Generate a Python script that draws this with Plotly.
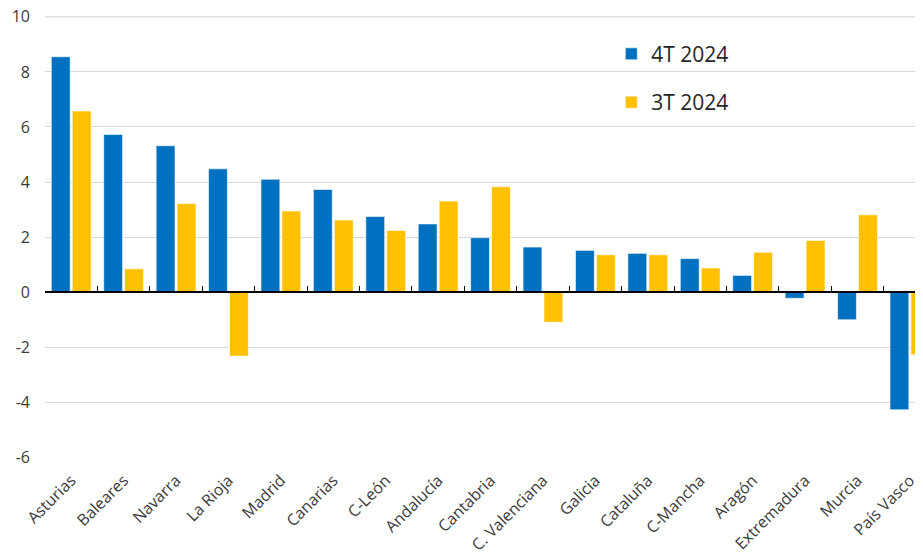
import plotly.graph_objects as go

regions = ["Asturias", "Baleares", "Navarra", "La Rioja", "Madrid", "Canarias", "C-León",
           "Andalucía", "Cantabria", "C. Valenciana", "Galicia", "Cataluña", "C-Mancha",
           "Aragón", "Extremadura", "Murcia", "País Vasco"]
q4_2024 = [8.55, 5.73, 5.32, 4.48, 4.10, 3.73, 2.75, 2.48, 1.98, 1.64, 1.52, 1.41, 1.22,
           0.61, -0.22, -1.00, -4.27]
q3_2024 = [6.58, 0.85, 3.22, -2.32, 2.95, 2.62, 2.24, 3.31, 3.83, -1.09, 1.36, 1.36, 0.88,
           1.45, 1.88, 2.81, -2.27]
y_tickvals = [-6, -4, -2, 0, 2, 4, 6, 8, 10]
y_ticktext = ["-6", "-4", "-2", "0", "2", "4", "6", "8", "10"]

FONT = "Open Sans"
TXT = "#3a3a3a"
GRID = "#d9d9d9"
ymin, ymax = -6.02, 10.03

fig = go.Figure()
fig.add_trace(go.Bar(name="4T 2024", x=regions, y=q4_2024, marker_color="#0070C0",
                     marker_line=dict(color="rgba(255,255,255,0.6)", width=1),
                     legendgroup="a"))
fig.add_trace(go.Bar(name="3T 2024", x=regions, y=q3_2024, marker_color="#FFC000",
                     marker_line=dict(color="rgba(255,255,255,0.6)", width=1),
                     legendgroup="b"))
# helper trace for the zero-line axis with boundary ticks
fig.add_trace(go.Scatter(x=regions, y=[0] * len(regions), xaxis="x2", yaxis="y",
                         mode="markers", marker=dict(opacity=0), showlegend=False,
                         hoverinfo="skip"))

# make sure the top gridline is drawn
fig.add_shape(type="line", xref="paper", x0=0, x1=1, yref="y",
              y0=y_tickvals[-1], y1=y_tickvals[-1],
              line=dict(color=GRID, width=1.3), layer="below")

xr = [-0.5, 16.25]
fig.update_layout(
    width=915, height=546,
    margin=dict(l=37, r=0, t=8, b=96, autoexpand=False),
    paper_bgcolor="white", plot_bgcolor="white",
    font=dict(family=FONT, color=TXT),
    barmode="group", bargap=0.2, bargroupgap=0.1,
    showlegend=True,
    legend=dict(x=0.645, y=0.96, xanchor="left", yanchor="top",
                font=dict(size=21, color="#262626", family=FONT),
                tracegroupgap=18, bgcolor="rgba(0,0,0,0)", itemwidth=30),
    xaxis=dict(type="category", categoryarray=regions, categoryorder="array",
               range=xr, showgrid=False, showline=False, ticks="", automargin=False,
               tickangle=-45, tickfont=dict(size=16, color=TXT), zeroline=False,
               ticklabelstandoff=9, ticklabeloverflow="allow"),
    xaxis2=dict(type="category", categoryarray=regions, categoryorder="array",
                range=xr, overlaying="x", anchor="free", automargin=False,
                position=(0 - ymin) / (ymax - ymin),
                showline=True, linecolor="black", linewidth=1.5,
                ticks="inside", tickson="boundaries", ticklen=5, tickcolor="black",
                tickwidth=1, showticklabels=False, showgrid=False, zeroline=False),
    yaxis=dict(range=[ymin, ymax], tickvals=y_tickvals, ticktext=y_ticktext,
               showgrid=True, gridcolor=GRID, gridwidth=1.3, zeroline=False,
               showline=False, ticks="", tickfont=dict(size=16, color=TXT),
               ticklabelstandoff=14, automargin=False, ticklabeloverflow="allow"),
)

fig.write_html("out.html")
